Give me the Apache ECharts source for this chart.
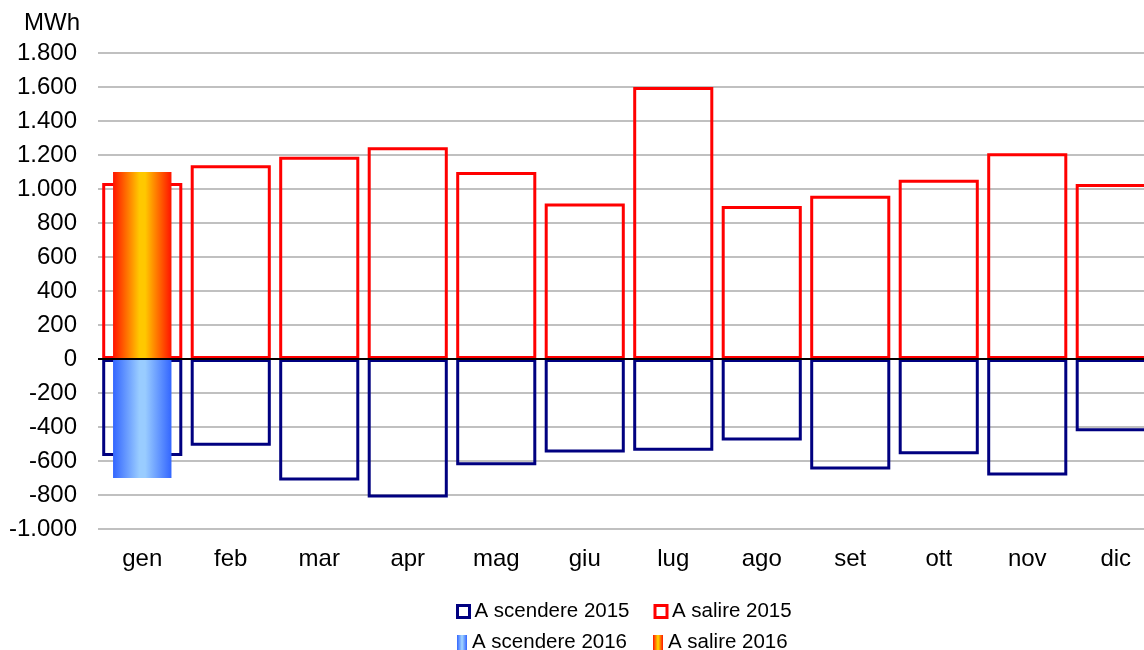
<!DOCTYPE html>
<html>
<head>
<meta charset="utf-8">
<script src="https://cdn.jsdelivr.net/npm/echarts@6/dist/echarts.min.js"></script>
<style>
  html, body { margin: 0; padding: 0; background: #fff; overflow: hidden; }
  /* the drawing is a little wider than the page, so the last bar is cut */
  #chart { width: 1160px; height: 650px; }
</style>
</head>
<body>
<div id="chart"></div>
<script>
// Months and monthly balancing energy (MWh)
const mesi = ['gen', 'feb', 'mar', 'apr', 'mag', 'giu', 'lug', 'ago', 'set', 'ott', 'nov', 'dic'];
const salire2015 = [1035, 1140, 1190, 1245, 1100, 915, 1600, 900, 960, 1055, 1210, 1030];
const scendere2015 = [-570, -510, -715, -815, -625, -550, -540, -480, -650, -560, -685, -425];
const salire2016 = [1100, null, null, null, null, null, null, null, null, null, null, null];
const scendere2016 = [-700, null, null, null, null, null, null, null, null, null, null, null];
const yTicks = { min: -1000, max: 1800, step: 200 };

const FONT = 'Liberation Sans, Arial, sans-serif';

// Italian thousands separator: 1.800, -1.000
function fmtIt(v) {
  const s = Math.abs(v).toString().replace(/\B(?=(\d{3})+(?!\d))/g, '.');
  return (v < 0 ? '-' : '') + s;
}

function hGrad(edge, mid) {
  return new echarts.graphic.LinearGradient(0, 0, 1, 0, [
    { offset: 0, color: edge },
    { offset: 0.45, color: mid },
    { offset: 0.55, color: mid },
    { offset: 1, color: edge }
  ]);
}

const chart = echarts.init(document.getElementById('chart'), null, { renderer: 'canvas' });

chart.setOption({
  backgroundColor: '#ffffff',
  animation: false,
  title: {
    text: 'MWh',
    left: 24,
    top: 11,
    padding: 0,
    textStyle: { fontFamily: FONT, fontSize: 24, fontWeight: 'normal', color: '#000' }
  },
  grid: { left: 98, right: 0, top: 53, height: 476, containLabel: false },
  legend: [
    {
      data: ['A scendere 2015', 'A salire 2015'],
      left: 456,
      top: 601,
      padding: 0,
      icon: 'rect',
      itemWidth: 12,
      itemHeight: 12,
      itemGap: 24,
      itemStyle: { borderWidth: 3 },
      textStyle: { fontFamily: FONT, fontSize: 20.5, color: '#000' }
    },
    {
      data: ['A scendere 2016', 'A salire 2016'],
      left: 457,
      top: 632,
      padding: 0,
      icon: 'rect',
      itemWidth: 10,
      itemHeight: 15,
      itemGap: 26,
      textStyle: { fontFamily: FONT, fontSize: 20.5, color: '#000' }
    }
  ],
  xAxis: [
    {
      type: 'category',
      data: mesi,
      position: 'bottom',
      axisLine: { show: false, onZero: false },
      axisTick: { show: false },
      axisLabel: { fontFamily: FONT, fontSize: 24, color: '#000', margin: 18 },
      splitLine: { show: false }
    },
    {
      type: 'category',
      data: mesi,
      show: false
    }
  ],
  yAxis: {
    type: 'value',
    min: yTicks.min,
    max: yTicks.max,
    interval: yTicks.step,
    axisLine: { show: false },
    axisTick: { show: false },
    axisLabel: {
      fontFamily: FONT,
      fontSize: 24,
      color: '#000',
      margin: 21,
      formatter: fmtIt
    },
    splitLine: { lineStyle: { color: '#c0c0c0', width: 2 } }
  },
  series: [
    {
      name: 'A scendere 2015',
      type: 'bar',
      xAxisIndex: 0,
      stack: 'y2015',
      barWidth: '90.5%',
      data: scendere2015,
      itemStyle: { color: 'rgba(255,255,255,0)', borderColor: '#000080', borderWidth: 3 }
    },
    {
      name: 'A salire 2015',
      type: 'bar',
      xAxisIndex: 0,
      stack: 'y2015',
      barWidth: '90.5%',
      data: salire2015,
      itemStyle: { color: 'rgba(255,255,255,0)', borderColor: '#ff0000', borderWidth: 3 }
    },
    {
      name: 'A scendere 2016',
      type: 'bar',
      xAxisIndex: 1,
      stack: 'y2016',
      barWidth: '66%',
      z: 3,
      data: scendere2016,
      itemStyle: { color: hGrad('#3366ff', '#99ccff') }
    },
    {
      name: 'A salire 2016',
      type: 'bar',
      xAxisIndex: 1,
      stack: 'y2016',
      barWidth: '66%',
      z: 3,
      data: salire2016,
      itemStyle: { color: hGrad('#ff1400', '#ffc800') },
      markLine: {
        silent: true,
        symbol: 'none',
        z: 6,
        label: { show: false },
        lineStyle: { color: '#000', width: 2, type: 'solid' },
        data: [{ yAxis: 0 }]
      }
    }
  ]
});
</script>
</body>
</html>
